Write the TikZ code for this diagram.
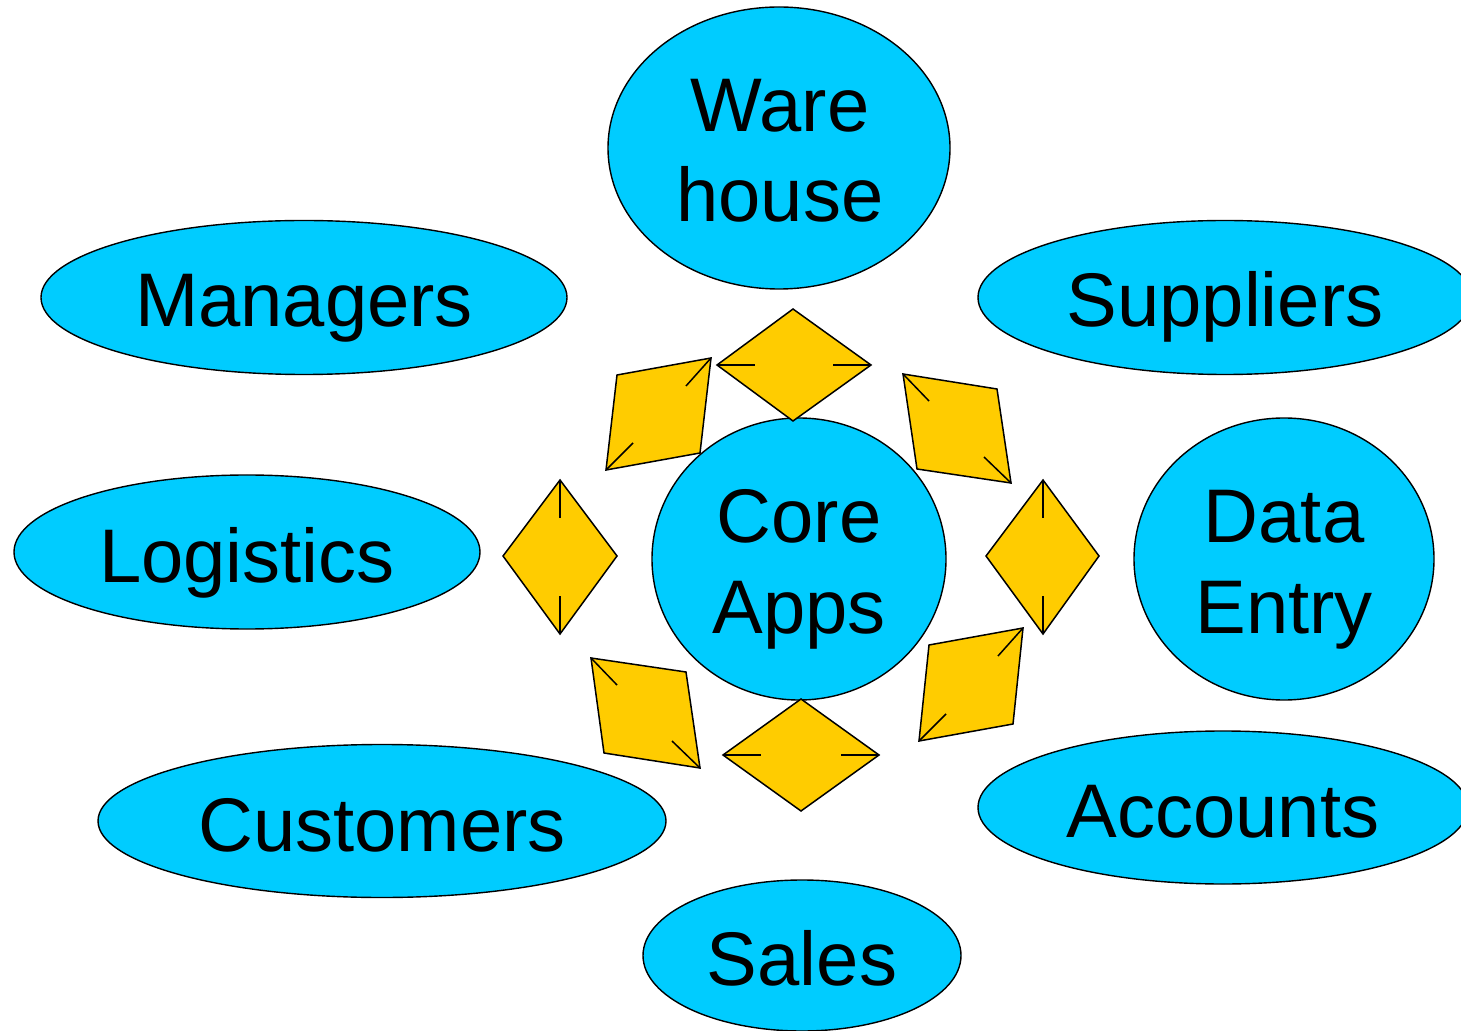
\documentclass[tikz,border=0pt]{standalone}
\usepackage{fontspec}
\setmainfont{Liberation Sans}
\usetikzlibrary{shapes.geometric}
\definecolor{bubble}{HTML}{00CCFF}
\definecolor{gold}{HTML}{FFCC00}
\tikzset{
  bub/.style={ellipse, draw=black, line width=0.7pt, fill=bubble, inner sep=0pt},
  lbl/.style={anchor=base, inner sep=0pt, font=\fontsize{38}{45}\selectfont},
  arr/.style={draw=black, line width=0.75pt, fill=gold, line join=miter},
  tick/.style={draw=black, line width=0.75pt}
}
\begin{document}
\begin{tikzpicture}[x=0.5pt,y=-0.5pt]
\useasboundingbox (0,0) rectangle (1461,1031);
\clip (0,0) rectangle (1461,1031);
% bubbles
\node[bub, minimum width=171pt, minimum height=141pt] (wh) at (779,148) {};
\node[bub, minimum width=263pt, minimum height=77pt] (mg) at (304,297.5) {};
\node[bub, minimum width=247pt, minimum height=77pt] (sp) at (1225,297.5) {};
\node[bub, minimum width=233pt, minimum height=77pt] (lg) at (247,552) {};
\node[bub, minimum width=147pt, minimum height=141pt] (ca) at (799,559) {};
\node[bub, minimum width=150pt, minimum height=141pt] (de) at (1284,559) {};
\node[bub, minimum width=284pt, minimum height=76.5pt] (cu) at (382,821) {};
\node[bub, minimum width=245pt, minimum height=76.5pt] (ac) at (1223,807.5) {};
\node[bub, minimum width=159pt, minimum height=75.5pt] (sa) at (802,955.5) {};
% labels
\node[lbl] (t1) at (780,132) {Ware};
\node[lbl] (t2) at (780,222) {house};
\node[lbl] (t3) at (304,327) {Managers};
\node[lbl] (t4) at (1225,327) {Suppliers};
\node[lbl] (t5) at (247,582) {Logistics};
\node[lbl] (t6) at (799,543) {Core};
\node[lbl] (t7) at (799,633) {Apps};
\node[lbl] (t8) at (1284,543) {Data};
\node[lbl] (t9) at (1284,633) {Entry};
\node[lbl] (t10) at (382,851) {Customers};
\node[lbl] (t11) at (1223,837) {Accounts};
\node[lbl] (t12) at (802,985) {Sales};
% top diamond
\coordinate (a1) at (717,365); \coordinate (a2) at (871,365);
\path[arr] (a1) -- (793,309) -- (a2) -- (793,421) -- cycle;
\draw[tick] (a1) -- (755,365); \draw[tick] (a2) -- (833,365);
% bottom diamond
\coordinate (b1) at (723,755); \coordinate (b2) at (879,755);
\path[arr] (b1) -- (801,699) -- (b2) -- (801,811) -- cycle;
\draw[tick] (b1) -- (761,755); \draw[tick] (b2) -- (841,755);
% left diamond
\coordinate (c1) at (560,480); \coordinate (c2) at (560,634);
\path[arr] (c1) -- (617,556) -- (c2) -- (503,556) -- cycle;
\draw[tick] (c1) -- (560,518); \draw[tick] (c2) -- (560,596);
% right diamond
\coordinate (d1) at (1043,480); \coordinate (d2) at (1043,634);
\path[arr] (d1) -- (1099,556) -- (d2) -- (986,556) -- cycle;
\draw[tick] (d1) -- (1043,518); \draw[tick] (d2) -- (1043,596);
% upper-left rhombus
\coordinate (e1) at (711,358); \coordinate (e2) at (606,470);
\path[arr] (617,375) -- (e1) -- (700,453) -- (e2) -- cycle;
\draw[tick] (e1) -- (686,386); \draw[tick] (e2) -- (633,443);
% lower-left rhombus
\coordinate (f1) at (591,658); \coordinate (f2) at (700,768);
\path[arr] (f1) -- (686,672) -- (f2) -- (604,753) -- cycle;
\draw[tick] (f1) -- (617,685); \draw[tick] (f2) -- (672,741);
% upper-right rhombus
\coordinate (g1) at (903,374); \coordinate (g2) at (1011,483);
\path[arr] (g1) -- (997,389) -- (g2) -- (917,469) -- cycle;
\draw[tick] (g1) -- (929,401); \draw[tick] (g2) -- (984,457);
% lower-right rhombus
\coordinate (h1) at (1023,628); \coordinate (h2) at (919,741);
\path[arr] (929,645) -- (h1) -- (1013,724) -- (h2) -- cycle;
\draw[tick] (h1) -- (998,656); \draw[tick] (h2) -- (946,714);
\end{tikzpicture}
\end{document}
